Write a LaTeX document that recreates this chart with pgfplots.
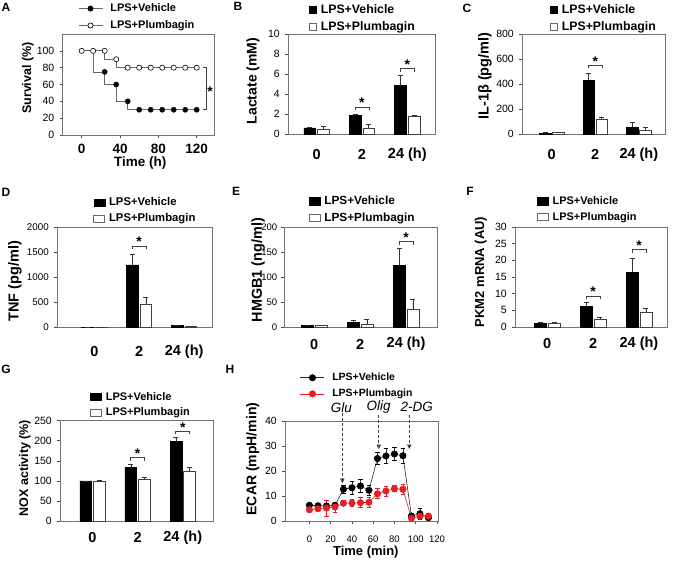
\documentclass[border=0pt]{standalone}
\usepackage{fontspec}
\setmainfont{Liberation Sans}
\usepackage{pgfplots}
\pgfplotsset{compat=1.18}
\usetikzlibrary{arrows.meta}

\definecolor{pbred}{RGB}{230,30,38}
\newcommand{\fs}[1]{\fontsize{#1}{#1}\selectfont}

\pgfplotsset{
  panel/.style={
    scale only axis, anchor=north west, clip=false,
    axis line style={black!55, line width=0.6pt},
    every tick/.style={black!70, line width=0.6pt},
    tick align=outside, major tick length=3pt,
    xtick pos=bottom, ytick pos=left,
    /pgf/number format/assume math mode=true,
    /pgf/number format/1000 sep={},
    y tick label style={font=\fs{10.5}, anchor=east, inner sep=0pt, xshift=-5pt},
    legend style={draw=none, fill=none, inner sep=0pt, row sep=5.2pt,
      legend cell align=left, nodes={inner sep=0.5pt},
      /tikz/every odd column/.append style={column sep=3.5pt}},
  },
  barpanel/.style={panel, ymin=0, xtick={0,1,2}, xticklabels={0,2,24 (h)},
    major x tick style={draw=none},
    x tick label style={font=\fs{14.5}\bfseries, anchor=center, inner sep=0pt, yshift=-#1}},
  ylab/.style n args={3}{ylabel style={font=\fs{#2}\bfseries, at={(axis description cs:#1,#3)}, anchor=center}},
  legat/.style 2 args={legend style={at={(axis description cs:#1,#2)}, anchor=north west}},
  legfont/.style={legend style={font=\fs{#1}\bfseries}},
  sq/.style 2 args={legend image code/.code={\draw[#1] (0pt,-3.6pt) rectangle (#2,3.6pt);}},
  linleg/.style={legend image code/.code={\draw[mark repeat=2,mark phase=2,##1] plot coordinates {(0pt,0pt)(12pt,0pt)(24pt,0pt)};}},
  errb/.style={error bars/y explicit, error bars/y dir=#1,
    error bars/error bar style={black!80, line width=0.6pt},
    error bars/error mark options={rotate=90, mark size=2.5pt, black!80, line width=0.6pt}},
  vbar/.style={ybar, bar width=0.26, bar shift=0, fill=black, draw=black, line width=0.5pt, forget plot, errb=plus},
  pbar/.style={ybar, bar width=0.26, bar shift=0, fill=white, draw=black!75, line width=0.6pt, forget plot, errb=plus},
}

% significance bracket over a group: x, y (axis units)
\newcommand{\sig}[2]{%
  \draw[black!75, line width=0.6pt] ([xshift=-7pt,yshift=-3pt]axis cs:#1,#2) -- ([xshift=-7pt]axis cs:#1,#2)
    -- ([xshift=7pt]axis cs:#1,#2) -- ([xshift=7pt,yshift=-3pt]axis cs:#1,#2);
  \node[font=\fs{14}\bfseries, inner sep=0pt, anchor=south] at ([yshift=-1pt]axis cs:#1,#2) {*};
}
\newcommand{\barleg}[1]{%
  \addlegendimage{sq={fill=black,draw=black}{#1}}\addlegendentry{LPS+Vehicle}
  \addlegendimage{sq={fill=white,draw=black!60,line width=0.6pt}{#1}}\addlegendentry{LPS+Plumbagin}
}

\begin{document}
\begin{tikzpicture}
\useasboundingbox (0pt,0pt) rectangle (675pt,-560pt);

% panel letters
\begin{scope}[every node/.style={font=\fs{12}\bfseries, inner sep=0pt}]
\node at (6pt,-7pt) {A};
\node at (238pt,-6pt) {B};
\node at (467pt,-8pt) {C};
\node at (6pt,-192pt) {D};
\node at (236pt,-191.5pt) {E};
\node at (470pt,-191.5pt) {F};
\node at (6pt,-369pt) {G};
\node at (230pt,-369pt) {H};
\end{scope}

% ---------------- A: survival
\begin{axis}[panel, at={(62.5pt,-34pt)}, width=151.5pt, height=101pt,
  xmin=-20, xmax=138, ymin=0, ymax=120,
  xtick={0,40,80,120}, ytick={0,20,...,100},
  x tick label style={font=\fs{13.5}\bfseries, anchor=center, inner sep=0pt, yshift=-10.5pt},
  xlabel={Time (h)}, xlabel style={font=\fs{13.5}\bfseries, at={(axis description cs:0.513,-0.28)}, anchor=center},
  ylab={-0.228}{12.5}{0.564}, ylabel={Survival (\%)},
  legat={0.102}{1.306}, legfont=11,
  legend style={row sep=6.5pt, /tikz/every odd column/.append style={column sep=7pt}}]
\addplot[black!60, line width=0.7pt, forget plot] coordinates {
  (0,100)(12,100)(12,75)(24,75)(24,60)(36,60)(36,40)(48,40)(48,30)(120,30)};
\addplot[black!60, line width=0.7pt, forget plot] coordinates {
  (0,100)(24,100)(24,90)(36,90)(36,80)(120,80)};
\addplot[only marks, mark=*, mark size=2.6pt, mark options={fill=black, draw=black}, forget plot] coordinates {
  (24,75)(36,60)(48,40)(60,30)(72,30)(84,30)(96,30)(108,30)(120,30)};
\addplot[only marks, mark=*, mark size=2.6pt, mark options={fill=white, draw=black, line width=0.6pt}, forget plot] coordinates {
  (0,100)(12,100)(24,100)(36,90)(48,80)(60,80)(72,80)(84,80)(96,80)(108,80)(120,80)};
\addlegendimage{black!60, line width=0.7pt, mark=*, mark size=2.6pt, mark options={fill=black,draw=black}, linleg}
\addlegendentry{LPS+Vehicle}
\addlegendimage{black!60, line width=0.7pt, mark=*, mark size=2.6pt, mark options={fill=white,draw=black}, linleg}
\addlegendentry{LPS+Plumbagin}
\draw[black!75, line width=0.6pt] (axis cs:126.5,80) -- (axis cs:130,80) -- (axis cs:130,30) -- (axis cs:126.5,30);
\node[font=\fs{14}\bfseries, inner sep=0pt] at ([yshift=-3pt]axis cs:134,55.6) {*};
\end{axis}

% ---------------- B: lactate
\begin{axis}[barpanel=17.5pt, at={(288pt,-34pt)}, width=147pt, height=100pt,
  xmin=-0.63, xmax=2.61, ymax=10, ytick={0,2,...,10},
  ylab={-0.238}{14}{0.53}, ylabel={Lactate (mM)}, legat={0.143}{1.299}, legfont=12.3]
\addplot[vbar] coordinates {(-0.15,0.62) +- (0,0.02) (0.85,1.83) +- (0,0.17) (1.85,4.83) +- (0,1.07)};
\addplot[pbar] coordinates {(0.15,0.5) +- (0,0.25) (1.15,0.6) +- (0,0.4) (2.15,1.73) +- (0,0.17)};
\barleg{7pt}
\sig{1}{2.7}
\sig{2}{6.53}
\end{axis}

% ---------------- C: IL-1beta
\begin{axis}[barpanel=17.5pt, at={(522pt,-34pt)}, width=143pt, height=100pt,
  xmin=-0.68, xmax=2.6, ymax=800, ytick={0,200,...,800},
  ylab={-0.26}{14.5}{0.58}, ylabel={IL-1β (pg/ml)}, legat={0.196}{1.299}, legfont=12.3]
\addplot[vbar] coordinates {(-0.15,8) +- (0,3) (0.85,432) +- (0,56) (1.85,56) +- (0,40)};
\addplot[pbar] coordinates {(0.15,10) +- (0,3) (1.15,120) +- (0,16) (2.15,27) +- (0,27)};
\barleg{7pt}
\sig{1}{549}
\end{axis}

% ---------------- D: TNF
\begin{axis}[barpanel=21pt, at={(57pt,-227.3pt)}, width=155pt, height=100pt,
  xmin=-0.83, xmax=2.62, ymax=2000, ytick={0,500,...,2000},
  y tick label style={font=\fs{9.8}},
  ylab={-0.271}{14.5}{0.46}, ylabel={TNF (pg/ml)}, legat={0.234}{1.302}, legfont=11.3]
\addplot[vbar] coordinates {(-0.15,2) +- (0,0) (0.85,1247) +- (0,213) (1.85,33) +- (0,4)};
\addplot[pbar] coordinates {(0.15,2) +- (0,0) (1.15,467) +- (0,133) (2.15,20) +- (0,3)};
\barleg{11pt}
\sig{1}{1627}
\end{axis}

% ---------------- E: HMGB1
\begin{axis}[barpanel=13.5pt, at={(284.3pt,-227.7pt)}, width=152.5pt, height=100pt,
  xmin=-0.65, xmax=2.67, ymax=200, ytick={0,50,...,200},
  y tick label style={font=\fs{9.5}, xshift=1pt},
  ylab={-0.172}{14.4}{0.577}, ylabel={HMGB1 (ng/ml)}, legat={0.159}{1.322}, legfont=11.8]
\addplot[vbar] coordinates {(-0.15,4.7) +- (0,1) (0.85,10.7) +- (0,4.6) (1.85,125.3) +- (0,34)};
\addplot[pbar] coordinates {(0.15,4) +- (0,1.2) (1.15,6.7) +- (0,9.3) (2.15,36.7) +- (0,21)};
\barleg{11pt}
\sig{2}{172}
\end{axis}

% ---------------- F: PKM2
\begin{axis}[barpanel=13.7pt, at={(515pt,-227pt)}, width=152pt, height=100pt,
  xmin=-0.7, xmax=2.61, ymax=30, ytick={0,5,...,30},
  ylab={-0.226}{13}{0.55}, ylabel={PKM2 mRNA (AU)}, legat={0.143}{1.312}, legfont=11]
\addplot[vbar] coordinates {(-0.15,1.1) +- (0,0.2) (0.85,6.3) +- (0,1.2) (1.85,16.5) +- (0,4.2)};
\addplot[pbar] coordinates {(0.15,1.1) +- (0,0.3) (1.15,2.3) +- (0,0.7) (2.15,4.5) +- (0,1.1)};
\barleg{11pt}
\sig{1}{9.3}
\sig{2}{23.2}
\end{axis}

% ---------------- G: NOX activity
\begin{axis}[barpanel=13.3pt, at={(60pt,-420.7pt)}, width=153pt, height=100.3pt,
  xmin=-0.72, xmax=2.67, ymax=250, ytick={0,50,...,250},
  ylab={-0.229}{12.5}{0.527}, ylabel={NOX activity (\%)}, legat={0.196}{1.292}, legfont=11]
\addplot[vbar] coordinates {(-0.15,100) +- (0,0) (0.85,134.5) +- (0,5.8) (1.85,198.5) +- (0,10)};
\addplot[pbar] coordinates {(0.15,100) +- (0,2) (1.15,103) +- (0,5) (2.15,123.8) +- (0,9)};
\barleg{11pt}
\sig{1}{157.8}
\sig{2}{223.4}
\end{axis}

% ---------------- H: ECAR
\begin{axis}[panel, at={(285pt,-421pt)}, width=153pt, height=100pt,
  xmin=-23, xmax=121, ymin=0, ymax=40,
  xtick={0,20,...,120}, ytick={0,10,...,40},
  x tick label style={font=\fs{9.5}, anchor=center, inner sep=0pt, yshift=-15pt},
  xlabel={Time (min)}, xlabel style={font=\fs{13}\bfseries, at={(axis description cs:0.528,-0.307)}, anchor=center},
  ylab={-0.21}{14}{0.62}, ylabel={ECAR (mpH/min)}, legat={0.098}{1.485}, legfont=10.5,
  legend style={row sep=6pt, /tikz/every odd column/.append style={column sep=7pt}}]
\addplot[black!85, line width=0.6pt, mark=*, mark size=3.2pt, mark options={fill=black, draw=black}, forget plot,
  errb=both, error bars/error mark options={rotate=90, mark size=2.2pt, black, line width=0.6pt}] coordinates {
  (0,6.3) +- (0,0.8) (8,6.1) +- (0,0.8) (16,6.0) +- (0,1.0) (24,6.3) +- (0,1.0)
  (32,12.7) +- (0,1.5) (40,13.3) +- (0,2.5) (48,14.0) +- (0,2.7) (56,12.3) +- (0,2.0)
  (64,25.0) +- (0,2.5) (72,26.0) +- (0,3.0) (80,26.8) +- (0,2.5) (88,26.1) +- (0,3.0)
  (96,2.0) +- (0,1.0) (104,2.9) +- (0,2.2) (112,1.3) +- (0,0.8)};
\addplot[pbred, line width=0.6pt, mark=*, mark size=3.2pt, mark options={fill=pbred, draw=pbred}, forget plot,
  errb=both, error bars/error bar style={pbred, line width=0.6pt},
  error bars/error mark options={rotate=90, mark size=2.2pt, pbred, line width=0.6pt}] coordinates {
  (0,4.5) +- (0,0.8) (8,4.9) +- (0,0.8) (16,5.2) +- (0,3.2) (24,5.6) +- (0,2.0)
  (32,7.1) +- (0,1.0) (40,7.2) +- (0,1.5) (48,7.3) +- (0,2.0) (56,7.5) +- (0,2.0)
  (64,10.9) +- (0,2.0) (72,12.0) +- (0,2.0) (80,12.9) +- (0,1.2) (88,12.7) +- (0,2.0)
  (96,1.1) +- (0,0.8) (104,1.9) +- (0,1.0) (112,2.0) +- (0,0.8)};
\addlegendimage{black!85, line width=0.6pt, mark=*, mark size=3.2pt, mark options={fill=black,draw=black}, linleg}
\addlegendentry{LPS+Vehicle}
\addlegendimage{pbred, line width=0.6pt, mark=*, mark size=3.2pt, mark options={fill=pbred,draw=pbred}, linleg}
\addlegendentry{LPS+Plumbagin}
\begin{scope}[black!75, densely dashed, line width=0.6pt]
\draw[-{Triangle[length=4.5pt,width=4.5pt]}] (axis cs:31,43.1) -- (axis cs:31,15.2);
\draw[-{Triangle[length=4.5pt,width=4.5pt]}] (axis cs:65.2,42.4) -- (axis cs:65.2,28.8);
\draw[-{Triangle[length=4.5pt,width=4.5pt]}] (axis cs:94,42.4) -- (axis cs:94,28.8);
\end{scope}
\node[font=\fs{13.5}\itshape, inner sep=0pt] at (axis cs:30,45.5) {Glu};
\node[font=\fs{13.5}\itshape, inner sep=0pt] at (axis cs:65.2,45.5) {Olig};
\node[font=\fs{13.5}\itshape, inner sep=0pt] at (axis cs:101,45.5) {2-DG};
\end{axis}
\end{tikzpicture}
\end{document}
